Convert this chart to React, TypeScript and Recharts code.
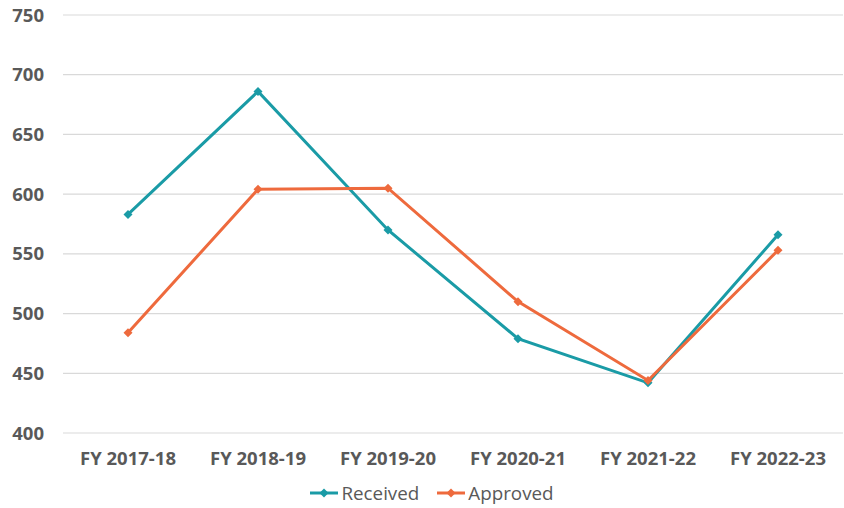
import React from 'react';
import { LineChart, Line, XAxis, YAxis, CartesianGrid, Legend } from 'recharts';

const years = ['FY 2017-18', 'FY 2018-19', 'FY 2019-20', 'FY 2020-21', 'FY 2021-22', 'FY 2022-23'];
const received = [583, 686, 570, 479, 442, 566];
const approved = [484, 604, 605, 510, 444, 553];
const yTicks = [400, 450, 500, 550, 600, 650, 700, 750];

const TEAL = '#1a9ba6';
const ORANGE = '#ee6a3d';
const TEXT = '#595959';
const FONT = '"Open Sans", sans-serif';

const data = years.map((year, i) => ({
  year,
  received: received[i],
  approved: approved[i]
}));

// small diamond marker like the spreadsheet export
const Diamond = (color: string) => (props: any) => {
  const { cx, cy, index } = props;
  if (cx == null || cy == null) return null;
  const r = 4.5;
  return (
    <polygon
      key={`d-${color}-${index}`}
      points={`${cx},${cy - r} ${cx + r},${cy} ${cx},${cy + r} ${cx - r},${cy}`}
      fill={color}
    />
  );
};

const LegendContent = () => {
  const items = [
    { label: 'Received', color: TEAL },
    { label: 'Approved', color: ORANGE }
  ];
  return (
    <div style={{ display: 'flex', justifyContent: 'center', gap: 17, fontFamily: FONT, fontSize: 18.8, color: TEXT, paddingLeft: 20 }}>
      {items.map(it => (
        <div key={it.label} style={{ display: 'flex', alignItems: 'center' }}>
          <svg width={30} height={12} style={{ marginRight: 2 }}>
            <line x1={1} y1={6} x2={29} y2={6} stroke={it.color} strokeWidth={3} />
            <polygon points="15,1.5 19.5,6 15,10.5 10.5,6" fill={it.color} />
          </svg>
          <span>{it.label}</span>
        </div>
      ))}
    </div>
  );
};

export default function App() {
  return (
    <div style={{ position: 'absolute', left: 0, top: 0, background: '#fff' }}>
      <LineChart width={844} height={508} data={data} margin={{ top: 15, right: 1, left: 0, bottom: 0 }}>
        <CartesianGrid vertical={false} stroke="#d9d9d9" strokeWidth={1.2} />
        <XAxis
          dataKey="year"
          axisLine={false}
          tickLine={false}
          tickSize={0}
          tickMargin={19}
          height={47}
          interval={0}
          padding={{ left: 65, right: 65 }}
          tick={{ fill: TEXT, fontSize: 18.5, fontWeight: 700, fontFamily: FONT }}
        />
        <YAxis
          domain={[400, 750]}
          ticks={yTicks}
          axisLine={false}
          tickLine={false}
          tickSize={0}
          tickMargin={19}
          width={63}
          tick={{ fill: TEXT, fontSize: 18.5, fontWeight: 700, fontFamily: FONT }}
        />
        <Legend verticalAlign="bottom" height={28} content={<LegendContent />} />
        <Line
          dataKey="received"
          name="Received"
          stroke={TEAL}
          strokeWidth={3}
          dot={Diamond(TEAL)}
          activeDot={false}
          isAnimationActive={false}
        />
        <Line
          dataKey="approved"
          name="Approved"
          stroke={ORANGE}
          strokeWidth={3}
          dot={Diamond(ORANGE)}
          activeDot={false}
          isAnimationActive={false}
        />
      </LineChart>
    </div>
  );
}
